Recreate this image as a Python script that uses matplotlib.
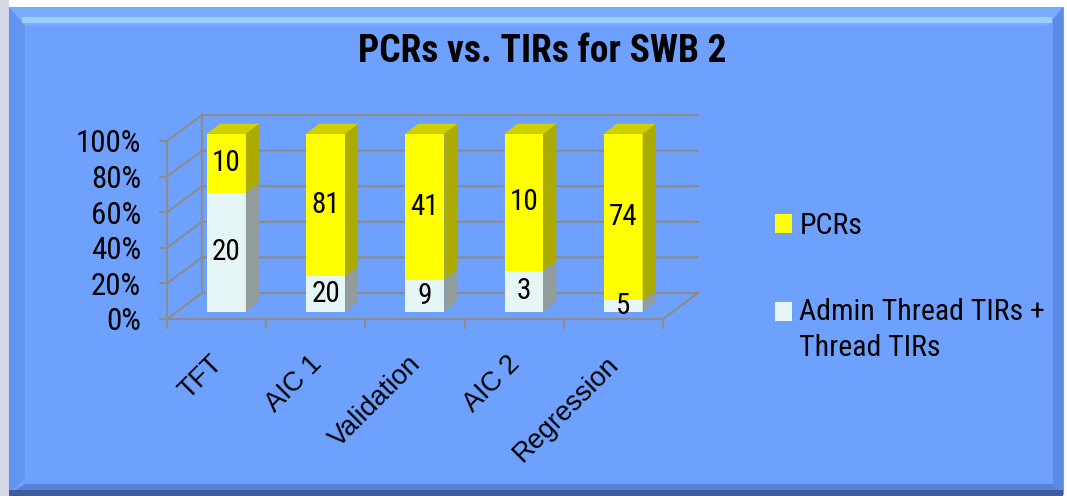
import matplotlib
matplotlib.use("Agg")
import matplotlib.pyplot as plt
from matplotlib.patches import Polygon, Rectangle, Patch
from matplotlib.legend_handler import HandlerPatch
from matplotlib.font_manager import FontProperties
from matplotlib.transforms import ScaledTranslation

categories = ["TFT", "AIC 1", "Validation", "AIC 2", "Regression"]
pcrs = [10, 81, 41, 10, 74]
tirs = [20, 20, 9, 3, 5]
series_names = ["PCRs", "Admin Thread TIRs +\nThread TIRs"]
yticks = [0, 20, 40, 60, 80, 100]

NARROW = ["Roboto Condensed", "Archivo Narrow", "Liberation Sans"]
BOLDNARROW = ["Roboto Condensed", "Asap Condensed", "Liberation Sans"]
REGULAR = ["Liberation Sans", "DejaVu Sans"]

BLUE = "#6ea1fd"
GRID = "#8a8c90"
YELLOW = ("#ffff00", "#acac00", "#d0d000")
WHITE = ("#e6f6f6", "#929c9c", "#c8d4d4")

# fake 3d geometry, in data units
DX, DY = 0.353, 14.6        # depth of the floor / side walls
F = 0.28                    # where the bar front sits in the depth
BDX, BDY = 0.131, 5.6       # depth of a bar
BW = 0.393                  # bar width


def box(ax, x0, y0, y1, colors, top=False):
    front, side, topc = colors
    x1 = x0 + BW
    ax.add_patch(Polygon([(x0, y0), (x1, y0), (x1, y1), (x0, y1)],
                         fc=front, ec="none", zorder=3))
    ax.add_patch(Polygon([(x1, y0), (x1 + BDX, y0 + BDY), (x1 + BDX, y1 + BDY), (x1, y1)],
                         fc=side, ec="none", zorder=3))
    if top:
        ax.add_patch(Polygon([(x0, y1), (x1, y1), (x1 + BDX, y1 + BDY), (x0 + BDX, y1 + BDY)],
                             fc=topc, ec="none", zorder=3))


def shifted_square(legend, orig_handle, xdescent, ydescent, width, height, fontsize):
    return Rectangle((-xdescent, -ydescent + 0.64 * fontsize), width, height)


def main():
    fig = plt.figure(figsize=(10.67, 4.96), dpi=100, facecolor="white")

    # background frame
    bg = fig.add_axes([0, 0, 1, 1], zorder=-5)
    bg.set_xlim(0, 1067)
    bg.set_ylim(496, 0)
    bg.axis("off")
    bg.add_patch(Rectangle((0, 0), 9, 496, fc="#d6d8e8", ec="none"))
    bg.add_patch(Rectangle((9, 7), 1054, 487, fc=BLUE, ec="#8f9aa8", lw=0.8))
    bg.add_patch(Polygon([(9, 7), (1063, 7), (1047, 26), (25, 26)], fc="#78acff", ec="none"))
    bg.add_patch(Rectangle((22, 17), 1030, 6, fc="#9ccefe", ec="none"))
    bg.add_patch(Polygon([(9, 7), (25, 26), (25, 478), (9, 494)], fc="#6294f2", ec="none"))
    bg.add_patch(Polygon([(1063, 7), (1063, 494), (1053, 484), (1053, 20)], fc="#5d8ae6", ec="none"))
    bg.add_patch(Polygon([(9, 494), (1063, 494), (1053, 484), (25, 484)], fc="#5a80da", ec="none"))
    bg.add_patch(Rectangle((9, 490), 1054, 6, fc="#3f5c9e", ec="none"))

    fig.text(542 / 1067, 1 - 52 / 496, "PCRs vs. TIRs for SWB 2", ha="center", va="center",
             fontsize=27, fontweight="bold", family=BOLDNARROW)

    ax = fig.add_axes([167 / 1067, 1 - 319 / 496, 531 / 1067, 204 / 496])
    ax.set_xlim(-0.5, 4.5 + DX)
    ax.set_ylim(0, 100 + DY)
    ax.patch.set_visible(False)
    for s in ("top", "right"):
        ax.spines[s].set_visible(False)
    for s in ("left", "bottom"):
        ax.spines[s].set_color(GRID)
        ax.spines[s].set_linewidth(1.6)
    ax.spines["left"].set_bounds(0, 100)
    ax.spines["bottom"].set_bounds(-0.5, 4.5)

    ax.set_yticks(yticks)
    ax.set_yticklabels([f"{v}%" for v in yticks], family=NARROW)
    ax.tick_params(axis="y", direction="out", length=6, width=1.6, color=GRID,
                   pad=12.8, labelsize=22.3)
    ax.set_xticks(range(len(categories)))
    ax.set_xticklabels(categories, rotation=45, ha="right", family=REGULAR)
    ax.set_xticks([i - 0.5 for i in range(len(categories) + 1)], minor=True)
    ax.tick_params(axis="x", which="major", length=0, pad=23, labelsize=19.5)
    ax.tick_params(axis="x", which="minor", direction="out", length=7, width=1.6, color=GRID)
    for lab in ax.get_xticklabels():
        lab.set_transform(lab.get_transform() + ScaledTranslation(0.11, 0, fig.dpi_scale_trans))

    # walls and gridlines
    for v in yticks:
        ax.plot([-0.5, -0.5 + DX, 4.5 + DX], [v, v + DY, v + DY], color=GRID, lw=1.6,
                zorder=1, clip_on=False, solid_joinstyle="miter")
    ax.plot([-0.5 + DX, -0.5 + DX], [DY, 100 + DY], color=GRID, lw=1.6, zorder=1, clip_on=False)
    ax.plot([4.5, 4.5 + DX], [0, DY], color=GRID, lw=1.6, zorder=1, clip_on=False)

    ox, oy = F * DX, F * DY
    for i, (p, t) in enumerate(zip(pcrs, tirs)):
        share = 100.0 * t / (t + p)
        x0 = i - BW / 2 + ox
        box(ax, x0, oy, oy + share, WHITE)
        box(ax, x0, oy + share, oy + 100, YELLOW, top=True)
        xc = x0 + BW / 2
        ax.text(xc, oy + share / 2, str(t), ha="center", va="center", fontsize=21,
                family=NARROW, zorder=5)
        ax.text(xc, oy + (share + 100) / 2, str(p), ha="center", va="center", fontsize=21,
                family=NARROW, zorder=5)

    h1 = Patch(fc=YELLOW[0], ec="none")
    h2 = Patch(fc=WHITE[0], ec="none")
    leg = fig.legend([h1, h2], series_names, loc="upper left",
                     bbox_to_anchor=(775 / 1067, 1 - 212 / 496), frameon=False,
                     borderpad=0, borderaxespad=0, handlelength=0.57, handleheight=0.57,
                     handletextpad=0.25, labelspacing=1.95,
                     handler_map={h2: HandlerPatch(patch_func=shifted_square)},
                     prop=FontProperties(family=NARROW, size=21.5))
    for t in leg.get_texts():
        t.set_linespacing(1.36)

    fig.savefig("out.png", dpi=100, facecolor=fig.get_facecolor())


if __name__ == "__main__":
    main()
